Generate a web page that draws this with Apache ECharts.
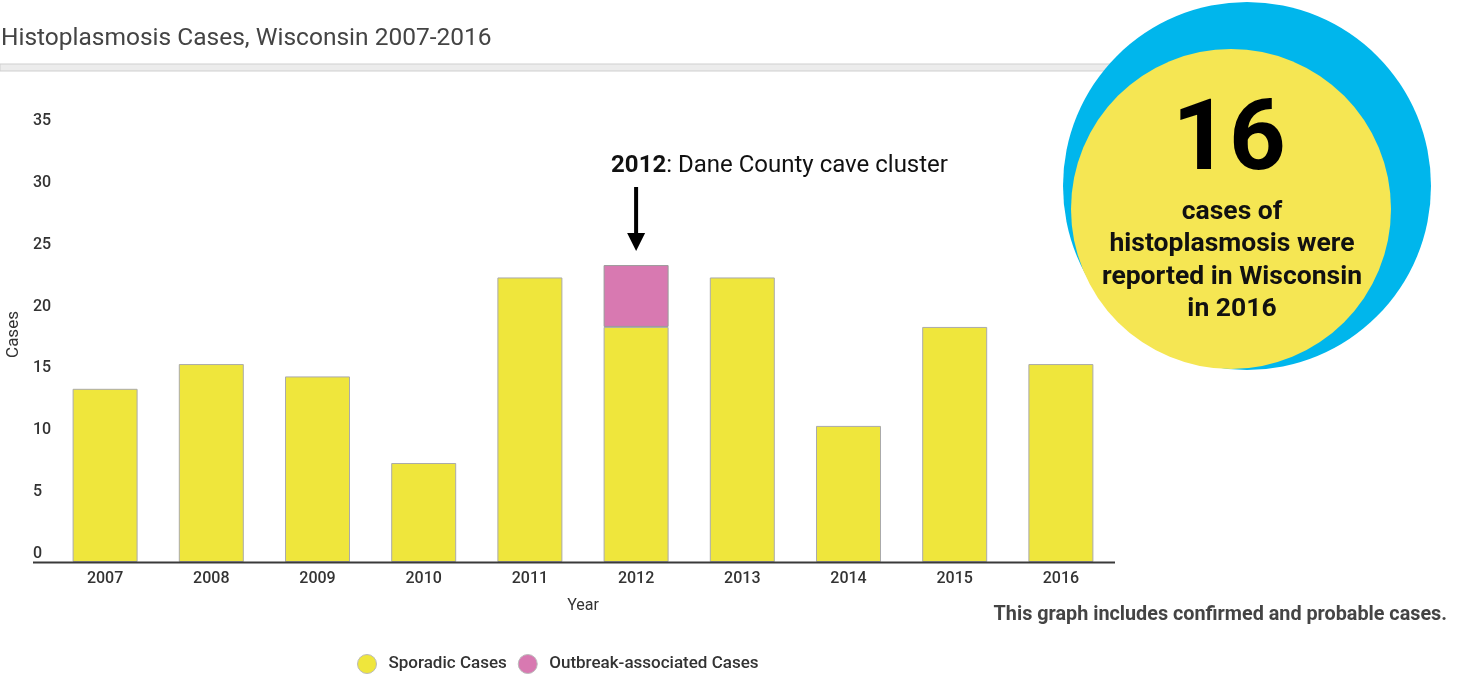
<!DOCTYPE html>
<html>
<head>
<meta charset="utf-8">
<script src="https://cdn.jsdelivr.net/npm/echarts@6/dist/echarts.min.js"></script>
<style>
html,body{margin:0;padding:0;background:#fff;}
#chart{width:1465px;height:675px;}
</style>
</head>
<body>
<div id="chart"></div>
<script>
const years = ['2007','2008','2009','2010','2011','2012','2013','2014','2015','2016'];
const sporadic = [14, 16, 15, 8, 23, 19, 23, 11, 19, 16];
const outbreak = [0, 0, 0, 0, 0, 5, 0, 0, 0, 0];
const yTicks = { min: 0, max: 35, interval: 5 };
const titleText = 'Histoplasmosis Cases, Wisconsin 2007-2016';
const annotationYear = '2012';
const annotationText = ': Dane County cave cluster';
const bigNumber = '16';
const circleText = 'cases of\nhistoplasmosis were\nreported in Wisconsin\nin 2016';
const footnote = 'This graph includes confirmed and probable cases.';

const FONT = 'Roboto, "Noto Sans", sans-serif';
const YELLOW = '#efe63c';
const PINK = '#d879b1';

const chart = echarts.init(document.getElementById('chart'), null, {renderer: 'canvas'});

const option = {
  backgroundColor: '#ffffff',
  animation: false,
  textStyle: { fontFamily: FONT },
  title: {
    text: titleText, left: -4, top: 21,
    textStyle: { fontFamily: FONT, fontSize: 24.5, fontWeight: 'normal', color: '#444' }
  },
  legend: {
    left: 352, top: 649,
    icon: 'circle', itemWidth: 19, itemHeight: 19, itemGap: 11,
    textStyle: { fontFamily: FONT, fontSize: 17, fontWeight: 500, color: '#333', padding: [0,0,0,7] },
    data: [
      { name: 'Sporadic Cases', itemStyle: { color: YELLOW, borderColor: '#bbb', borderWidth: 1 } },
      { name: 'Outbreak-associated Cases', itemStyle: { color: PINK, borderColor: '#bbb', borderWidth: 1 } }
    ]
  },
  grid: { left: 52, right: 351, top: 129, bottom: 113, containLabel: false, outerBoundsMode: 'none' },
  xAxis: {
    type: 'category', data: years,
    name: 'Year', nameLocation: 'middle', nameGap: 36,
    nameTextStyle: { fontFamily: FONT, fontSize: 16, color: '#333' },
    axisLine: { show: false },
    axisTick: { show: false },
    axisLabel: { margin: 9, fontFamily: FONT, fontSize: 16, fontWeight: 500, color: '#333' }
  },
  yAxis: {
    type: 'value', min: yTicks.min, max: yTicks.max, interval: yTicks.interval,
    name: 'Cases', nameLocation: 'middle', nameGap: 27, nameRotate: 90,
    nameTextStyle: { fontFamily: FONT, fontSize: 17, color: '#333', padding: [0,0,0,22] },
    splitLine: { show: false },
    axisLine: { show: false },
    axisTick: { show: false },
    axisLabel: { align: 'left', margin: 19, verticalAlign: 'bottom', padding: [0,0,0,0],
      fontFamily: FONT, fontSize: 16, fontWeight: 500, color: '#333' }
  },
  series: [
    { name: 'Sporadic Cases', type: 'bar', stack: 'total', data: sporadic, barWidth: 65,
      itemStyle: { color: YELLOW, borderColor: '#aaa', borderWidth: 1 } },
    { name: 'Outbreak-associated Cases', type: 'bar', stack: 'total', barWidth: 65,
      data: outbreak.map(v => v === 0 ? null : v),
      itemStyle: { color: PINK, borderColor: '#999', borderWidth: 1 } }
  ]
};
chart.setOption(option);

const idx = years.indexOf(annotationYear);
const topPt = chart.convertToPixel({ seriesIndex: 0 }, [idx, sporadic[idx] + outbreak[idx]]);
const zeroPt = chart.convertToPixel({ seriesIndex: 0 }, [0, 0]);
const ax = topPt[0];

chart.setOption({
  graphic: [
    { type: 'rect', z: 1, shape: { x: 0, y: 64, width: 1120, height: 7 },
      style: { fill: '#ececec', stroke: '#cfcfcf', lineWidth: 1 } },
    { type: 'line', z: 10, shape: { x1: 33, y1: zeroPt[1] + 0.5, x2: 1115, y2: zeroPt[1] + 0.5 },
      style: { stroke: '#3a3a3a', lineWidth: 2 } },
    { type: 'line', z: 10, shape: { x1: ax, y1: 187, x2: ax, y2: topPt[1] - 31 },
      style: { stroke: '#000', lineWidth: 4 } },
    { type: 'polygon', z: 10, shape: { points: [[ax - 9, topPt[1] - 32], [ax + 9, topPt[1] - 32], [ax, topPt[1] - 14]] },
      style: { fill: '#000' } },
    { type: 'text', z: 10, left: ax - 25, top: 154,
      style: { text: '{b|' + annotationYear + '}' + annotationText, fontFamily: FONT, fontSize: 24, fill: '#111',
        rich: { b: { fontWeight: 'bold', fontSize: 24, fontFamily: FONT, fill: '#111' } } } },
    { type: 'circle', z: 20, shape: { cx: 1247, cy: 186, r: 184 }, style: { fill: '#00b6ec' } },
    { type: 'circle', z: 21, shape: { cx: 1231, cy: 209, r: 160 }, style: { fill: '#f5e653' } },
    { type: 'text', z: 22, x: 1229, y: 144,
      style: { text: bigNumber, fontFamily: FONT, fontSize: 99, fontWeight: 'bold', fill: '#000',
        align: 'center', verticalAlign: 'middle' } },
    { type: 'text', z: 22, x: 1232, y: 196,
      style: { text: circleText, fontFamily: FONT, fontSize: 26.5, fontWeight: 'bold', fill: '#111',
        align: 'center', verticalAlign: 'top', lineHeight: 32.5 } },
    { type: 'text', z: 10, x: 1447, y: 615,
      style: { text: footnote, fontFamily: FONT, fontSize: 19.8, fontWeight: 'bold', fill: '#444',
        align: 'right', verticalAlign: 'middle' } }
  ]
});
</script>
</body>
</html>
